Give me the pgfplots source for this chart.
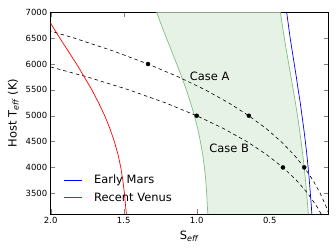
\documentclass[border=0pt]{standalone}
\usepackage{fontspec}
\setmainfont{DejaVu Sans}
\usepackage{pgfplots}
\pgfplotsset{compat=1.18}
\definecolor{hzfill}{rgb}{0.898,0.949,0.898}
\definecolor{hzline}{rgb}{0.5,0.75,0.5}
\definecolor{venus}{rgb}{1,0,0}
\definecolor{mars}{rgb}{0,0,1}
\begin{document}
\begin{tikzpicture}
\useasboundingbox (-50.7bp,-38bp) rectangle (285.3bp,214bp);
\begin{axis}[
  scale only axis, width=277.6bp, height=201.7bp,
  at={(0,0)}, anchor=south west,
  x dir=reverse, xmin=0.099, xmax=2.0, ymin=3100, ymax=7000,
  xtick={0.5,1,1.5,2},
  ytick={3500,4000,4500,5000,5500,6000,6500,7000},
  minor tick num=0,
  tick align=inside,
  major tick length=4.5bp,
  xticklabel style={/pgf/number format/.cd, fixed, fixed zerofill, precision=1},
  yticklabel style={/pgf/number format/1000 sep={}},
  /pgf/number format/assume math mode=true,
  tick label style={font=\fontsize{8.5}{10}\selectfont},
  label style={font=\fontsize{11.5}{13}\selectfont},
  xlabel={S\textsubscript{\textit{eff}}},
  ylabel={Host T\textsubscript{\textit{eff}} (K)},
  clip=true,
]
% habitable zone (runaway greenhouse -> maximum greenhouse)
\addplot[fill=hzfill, draw=none, forget plot] coordinates {
(1.274,7000)(1.242,6750)(1.207,6500)(1.172,6250)(1.137,6000)(1.103,5750)(1.071,5500)(1.042,5250)(1.016,5000)(0.993,4750)(0.975,4500)(0.959,4250)(0.947,4000)(0.938,3750)(0.932,3500)(0.927,3250)(0.924,3100)
(0.236,3100)(0.240,3250)(0.247,3500)(0.255,3750)(0.264,4000)(0.274,4250)(0.285,4500)(0.297,4750)(0.310,5000)(0.324,5250)(0.339,5500)(0.354,5750)(0.370,6000)(0.385,6250)(0.400,6500)(0.414,6750)(0.427,7000)(1.274,7000)};
\addplot[hzline, line width=0.7pt, forget plot] coordinates {
(1.274,7000)(1.242,6750)(1.207,6500)(1.172,6250)(1.137,6000)(1.103,5750)(1.071,5500)(1.042,5250)(1.016,5000)(0.993,4750)(0.975,4500)(0.959,4250)(0.947,4000)(0.938,3750)(0.932,3500)(0.927,3250)(0.924,3100)};
\addplot[hzline, line width=0.7pt, forget plot] coordinates {
(0.236,3100)(0.240,3250)(0.247,3500)(0.255,3750)(0.264,4000)(0.274,4250)(0.285,4500)(0.297,4750)(0.310,5000)(0.324,5250)(0.339,5500)(0.354,5750)(0.370,6000)(0.385,6250)(0.400,6500)(0.414,6750)(0.427,7000)};
% Case A track
\addplot[black, line width=0.6pt, dash pattern=on 3.5bp off 3bp, forget plot] coordinates {
(0.0950,3100)(0.1148,3250)(0.1544,3500)(0.2035,3750)(0.2634,4000)(0.3357,4250)(0.4219,4500)(0.5237,4750)(0.6430,5000)(0.7816,5250)(0.9414,5500)(1.1246,5750)(1.3333,6000)(1.5698,6250)(1.8365,6500)(2.1357,6750)};
% Case B track
\addplot[black, line width=0.6pt, dash pattern=on 3.5bp off 3bp, forget plot] coordinates {
(0.1478,3100)(0.1785,3250)(0.2401,3500)(0.3164,3750)(0.4096,4000)(0.5220,4250)(0.6561,4500)(0.8145,4750)(1.0000,5000)(1.2155,5250)(1.4641,5500)(1.7490,5750)(2.0736,6000)};
% planets
\addplot[only marks, mark=*, mark size=2bp, black, forget plot] coordinates {
(1.3333,6000)(0.6430,5000)(0.2634,4000)(1.0000,5000)(0.4096,4000)};
% Early Mars
\addplot[mars, line width=0.7pt, forget plot] coordinates {
(0.212,3100)(0.215,3250)(0.222,3500)(0.229,3750)(0.237,4000)(0.246,4250)(0.256,4500)(0.267,4750)(0.279,5000)(0.291,5250)(0.305,5500)(0.318,5750)(0.332,6000)(0.346,6250)(0.360,6500)(0.372,6750)(0.384,7000)};
% Recent Venus
\addplot[venus, line width=0.7pt, forget plot] coordinates {
(1.482,3100)(1.487,3250)(1.495,3500)(1.506,3750)(1.520,4000)(1.539,4250)(1.564,4500)(1.594,4750)(1.630,5000)(1.672,5250)(1.718,5500)(1.770,5750)(1.823,6000)(1.880,6250)(1.937,6500)(1.992,6750)(2.043,7000)};
\node[font=\fontsize{11.5}{13}\selectfont] at (axis cs:0.911,5769) {Case A};
\node[font=\fontsize{11.5}{13}\selectfont] at (axis cs:0.778,4371) {Case B};
% legend swatches as thin filled strips
\fill[mars] (axis description cs:0.048,0.1636) rectangle (axis description cs:0.113,0.1686);
\fill[venus] (axis description cs:0.048,0.0793) rectangle (axis description cs:0.113,0.0843);
\node[anchor=west, inner sep=0pt, font=\fontsize{11.5}{13}\selectfont] at (axis description cs:0.1556,0.1686) {Early Mars};
\node[anchor=west, inner sep=0pt, font=\fontsize{11.5}{13}\selectfont] at (axis description cs:0.1556,0.0843) {Recent Venus};
\end{axis}
\end{tikzpicture}
\end{document}
